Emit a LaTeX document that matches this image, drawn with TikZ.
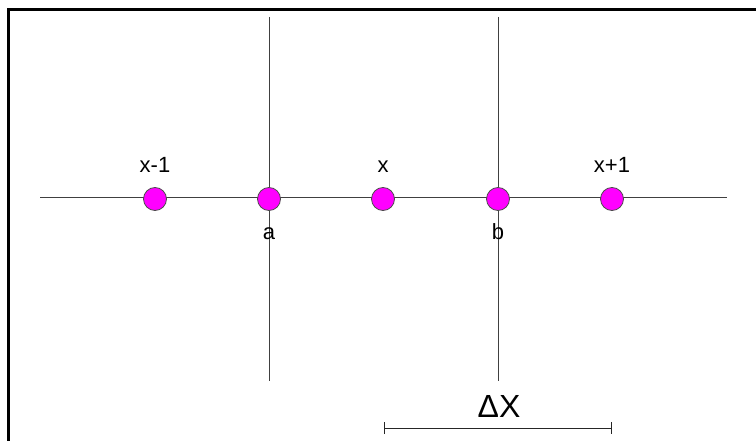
\documentclass[tikz,border=0pt]{standalone}
\usepackage{fontspec}
\setmainfont{Liberation Sans}
\usetikzlibrary{arrows.meta}
\definecolor{dotpink}{RGB}{255,0,255}

\begin{document}
\begin{tikzpicture}[x=1pt, y=-1pt,
    grid/.style={draw=black!75, line width=1pt},
    pt/.style={circle, draw=black!70, line width=0.8pt, fill=dotpink, minimum size=23pt, inner sep=0pt},
    lbl/.style={anchor=base, font=\fontsize{22}{24}\selectfont, inner sep=0pt},
    dim/.style={{Bar[width=12pt]}-{Bar[width=12pt]}, line width=1pt, black!85}
]
\useasboundingbox (0,0) rectangle (756,441);
% frame, cut by the page on the right and below
\draw[line width=3pt, line cap=butt] (8,441) -- (8,10) -- (756,10);

\coordinate (hl) at (40,198);
\coordinate (hr) at (727,198);
\coordinate (at) at (269,17);
\coordinate (ab) at (269,381);
\coordinate (bt) at (498,17);
\coordinate (bb) at (498,381);
\draw[grid] (hl) -- (hr);
\draw[grid] (at) -- (ab);
\draw[grid] (bt) -- (bb);

\node[pt] (xm) at (155,199) {};
\node[pt] (a) at (269,199) {};
\node[pt] (x) at (383,199) {};
\node[pt] (b) at (498,199) {};
\node[pt] (xp) at (612,199) {};

\node[lbl] (lxm) at (155,173) {x-1};
\node[lbl] (lx) at (383,173) {x};
\node[lbl] (lxp) at (612,173) {x+1};
\node[lbl] (la) at (269,240) {a};
\node[lbl] (lb) at (498,240) {b};

\coordinate (dl) at (384,428);
\coordinate (dr) at (612,428);
\draw[dim] (dl) -- (dr);
\node[lbl, font=\fontsize{32}{34}\selectfont] (ldx) at (499,417) {ΔX};
\end{tikzpicture}
\end{document}
